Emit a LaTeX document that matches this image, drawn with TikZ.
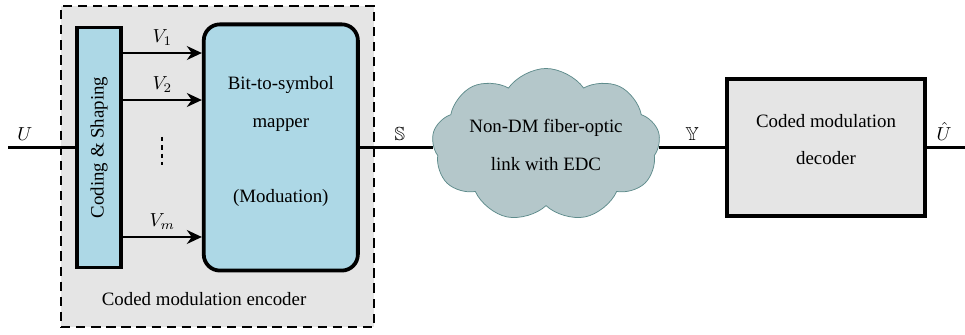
\documentclass[tikz,border=0pt]{standalone}
\usepackage{fontspec}
\setmainfont{Liberation Serif}
\usepackage{amsmath}
\usepackage{amssymb}
\usepackage{tikz}
\usetikzlibrary{positioning}
\usetikzlibrary{shapes.symbols,arrows.meta}
\definecolor{boxblue}{RGB}{173,216,230}
\definecolor{boxgray}{RGB}{229,229,229}
\definecolor{cloudfill}{RGB}{180,199,202}
\definecolor{cloudline}{RGB}{95,140,140}

\begin{document}
\begin{tikzpicture}[
encoderbox/.style={rectangle, draw=black, fill=boxgray, line width=1pt, dash pattern=on 5pt off 3pt, minimum width=5.83cm, minimum height=5.98cm, inner sep=0pt},
codernode/.style={rectangle, draw=black, fill=boxblue, line width=2pt, minimum width=0.82cm, minimum height=4.47cm, inner sep=0pt},
mappernode/.style={rectangle, rounded corners=0.3cm, draw=black, fill=boxblue, line width=2pt, minimum width=2.87cm, minimum height=4.585cm, align=center, text depth=0.3cm},
cloudnode/.style={cloud, cloud puffs=9, cloud puff arc=110, cloud ignores aspect, draw=cloudline, fill=cloudfill, thin, minimum width=4.25cm, minimum height=2.85cm, align=center, inner sep=0pt},
decodernode/.style={rectangle, draw=black, fill=boxgray, line width=2pt, minimum width=3.69cm, minimum height=2.54cm, align=center, text depth=0.3cm},
link/.style={line width=1.1pt},
arrowlink/.style={line width=1.1pt, -{Stealth[length=2.8mm, width=2.6mm]}},
]
\useasboundingbox (0,0) rectangle (17.97,-6.238);
%Nodes
\node[encoderbox]   (encoder)   at (4.05,-3.10)     {};
\node[codernode]    (coding)    at (1.844,-2.746)   [label={[rotate=90]center:Coding \& Shaping}] {};
\node[mappernode]   (mapper)    [right=1.47cm of coding] {Bit-to-symbol\\[8pt]mapper\\[28pt](Moduation)};
\node[cloudnode]    (link)      at (10.168,-2.70)   {Non-DM fiber-optic\\[8pt]link with EDC};
\node[decodernode]  (decoder)   at (15.382,-2.746)  {Coded modulation\\[8pt]decoder};
\coordinate (uin)  at (0.149,-2.746);
\coordinate (uout) at (17.97,-2.746);
\coordinate (v1) at (0,-0.987);
\coordinate (v2) at (0,-1.862);
\coordinate (vm) at (0,-4.413);
%Lines
\draw[link] (uin) -- node[above, pos=0.25] {$U$} (coding.west);
\draw[arrowlink] (coding.east |- v1) -- node[above] {$V_1$} (mapper.west |- v1);
\draw[arrowlink] (coding.east |- v2) -- node[above] {$V_2$} (mapper.west |- v2);
\draw[arrowlink] (coding.east |- vm) -- node[above] {$V_m$} (mapper.west |- vm);
\draw[link] (mapper.east) -- node[above, pos=0.55] {$\mathbb{S}$} (link.west |- mapper.east);
\draw[link] (link.east |- decoder.west) -- node[above] {$\mathbb{Y}$} (decoder.west);
\draw[link] (decoder.east) -- node[above, pos=0.45] {$\hat{U}$} (uout);
\draw[line width=1.1pt, dash pattern=on 2.4pt off 2pt] (3.017,-2.55) -- (3.017,-3.07);
%Text
\node[] (enclabel) at (3.8,-5.568) {Coded modulation encoder};
\end{tikzpicture}
\end{document}
